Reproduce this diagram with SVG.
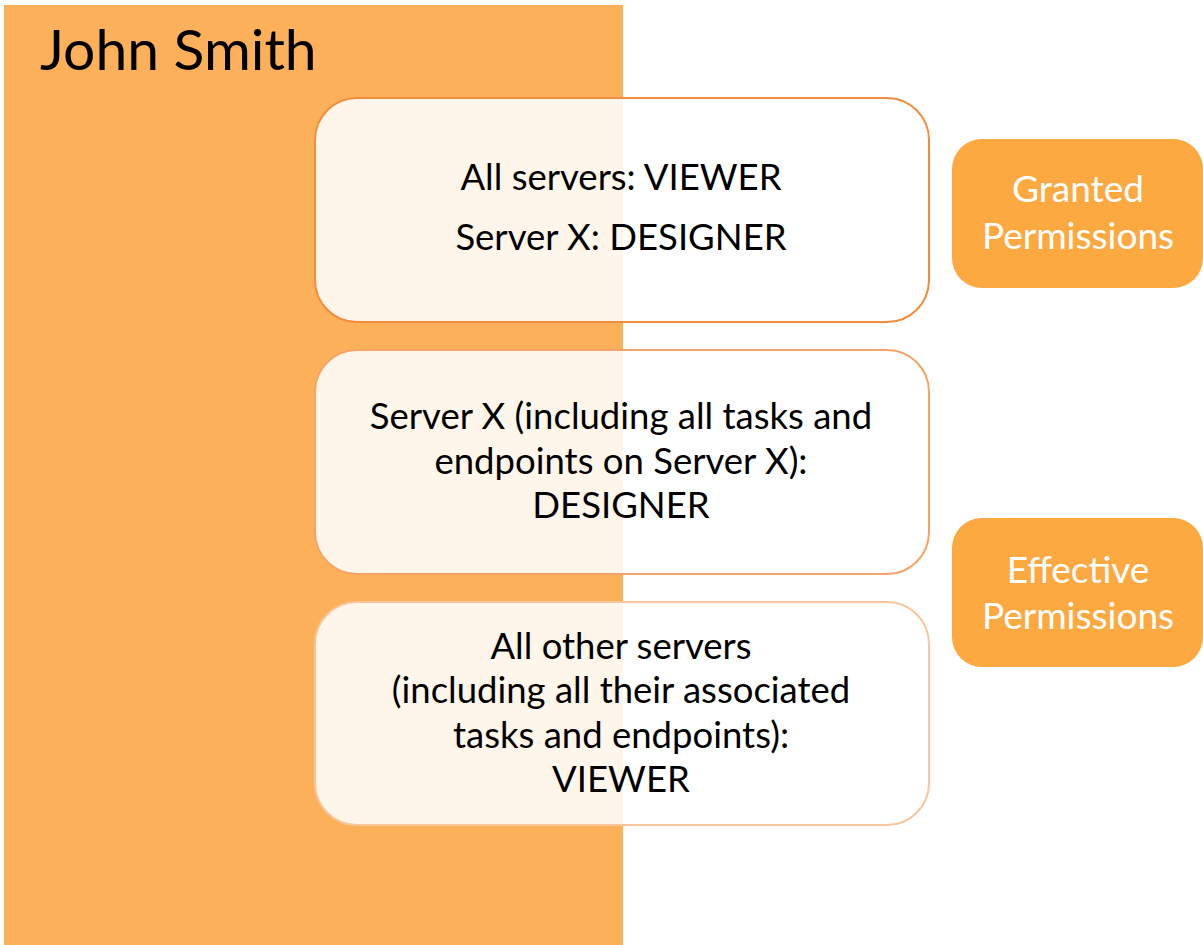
<svg xmlns="http://www.w3.org/2000/svg" width="1203" height="945" viewBox="0 0 1203 945">
<style>
.t{font-family:Lato,"Open Sans","Liberation Sans",sans-serif;font-size:36.5px;fill:#000;text-anchor:middle}
.w{font-family:Lato,"Open Sans","Liberation Sans",sans-serif;font-size:37px;fill:#fff;text-anchor:middle}
.box{fill:#fff;fill-opacity:0.88;stroke:#F28C3E;stroke-width:2}
.lab{fill:#FDA942}
</style>
<rect width="1203" height="945" fill="#fff"/>
<g id="john">
<rect x="4" y="5" width="619" height="940" fill="#FDB05A"/>
<text x="40" y="70" style="font-family:Lato,'Open Sans','Liberation Sans',sans-serif;font-size:57px;fill:#000">John Smith</text>
</g>
<g id="granted">
<rect class="box" x="315" y="98" width="614" height="224" rx="42"/>
<text class="t" x="621" y="190">All servers: VIEWER</text>
<text class="t" x="621" y="250">Server X: DESIGNER</text>
</g>
<g id="effective1">
<rect class="box" x="315" y="350" width="614" height="224" rx="42" style="stroke:#F5A468"/>
<text class="t" x="621" y="429">Server X (including all tasks and</text>
<text class="t" x="621" y="474">endpoints on Server X):</text>
<text class="t" x="621" y="518">DESIGNER</text>
</g>
<g id="effective2">
<rect class="box" x="315" y="602" width="614" height="223" rx="42" style="stroke:#F8C59E"/>
<text class="t" x="621" y="659">All other servers</text>
<text class="t" x="621" y="703">(including all their associated</text>
<text class="t" x="621" y="748">tasks and endpoints):</text>
<text class="t" x="621" y="792">VIEWER</text>
</g>
<g id="label-granted">
<rect class="lab" x="952" y="139" width="251" height="149" rx="30"/>
<text class="w" x="1078" y="202">Granted</text>
<text class="w" x="1078" y="249">Permissions</text>
</g>
<g id="label-effective">
<rect class="lab" x="952" y="518" width="251" height="149" rx="30"/>
<text class="w" x="1078" y="583">Effective</text>
<text class="w" x="1078" y="629">Permissions</text>
</g>
<g id="connectors"/>
</svg>
